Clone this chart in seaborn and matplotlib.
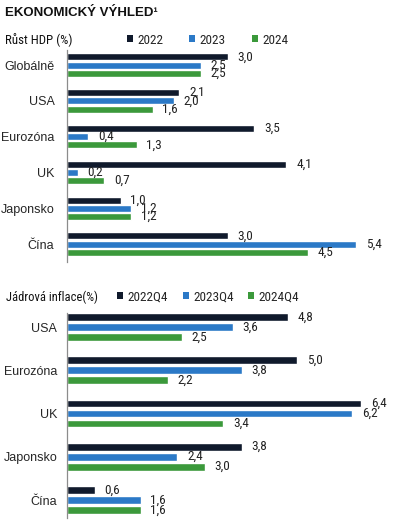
import matplotlib
matplotlib.use("Agg")
import matplotlib.pyplot as plt
from matplotlib.patches import Patch
import pandas as pd
import seaborn as sns

# GDP growth
gdp_countries = ["Globálně", "USA", "Eurozóna", "UK", "Japonsko", "Čína"]
gdp_years = ["2022", "2023", "2024"]
gdp_2022 = [3.0, 2.1, 3.5, 4.1, 1.0, 3.0]
gdp_2023 = [2.5, 2.0, 0.4, 0.2, 1.2, 5.4]
gdp_2024 = [2.5, 1.6, 1.3, 0.7, 1.2, 4.5]

# Core inflation
inf_countries = ["USA", "Eurozóna", "UK", "Japonsko", "Čína"]
inf_periods = ["2022Q4", "2023Q4", "2024Q4"]
inf_2022q4 = [4.8, 5.0, 6.4, 3.8, 0.6]
inf_2023q4 = [3.6, 3.8, 6.2, 2.4, 1.6]
inf_2024q4 = [2.5, 2.2, 3.4, 3.0, 1.6]

COLORS = ["#101a2c", "#2b79c7", "#3b993b"]
NARROW = ["Roboto Condensed", "DejaVu Sans"]
REGULAR = ["Liberation Sans", "DejaVu Sans"]
W, H = 399, 531


def long_df(countries, series, names):
    rows = []
    for name, vals in zip(names, series):
        for c, v in zip(countries, vals):
            rows.append({"country": c, "period": name, "value": v})
    return pd.DataFrame(rows)


def draw(ax, df, order, hues, width, gap, xmax, ylim, label_pad, tick_pad):
    sns.barplot(data=df, y="country", x="value", hue="period", order=order,
                hue_order=hues, palette=COLORS, orient="h", width=width,
                gap=gap, saturation=1, legend=False, ax=ax)
    for cont in ax.containers:
        ax.bar_label(cont, labels=[f"{b.get_width():.1f}".replace(".", ",") for b in cont],
                     padding=label_pad, fontsize=9.5, family=NARROW, color="#222222")
    ax.set_xlim(0, xmax)
    ax.set_ylim(*ylim)
    ax.set_xlabel("")
    ax.set_ylabel("")
    ax.set_xticks([])
    for s in ["top", "right", "bottom"]:
        ax.spines[s].set_visible(False)
    ax.spines["left"].set_color("#8c8c8c")
    ax.spines["left"].set_linewidth(0.9)
    ax.tick_params(axis="y", length=0, pad=tick_pad, labelsize=9)
    for t in ax.get_yticklabels():
        t.set_family(REGULAR)


def legend(fig, names, x, y, colspacing):
    handles = [Patch(facecolor=c, edgecolor="none", label=n) for c, n in zip(COLORS, names)]
    fig.legend(handles=handles, loc="center left", bbox_to_anchor=(x / W, 1 - y / H),
               ncol=3, frameon=False, handlelength=0.45, handleheight=0.45,
               handletextpad=0.35, columnspacing=colspacing, borderpad=0, borderaxespad=0,
               prop={"family": NARROW, "size": 9.5})


sns.set_style("white")
plt.rcParams["font.family"] = REGULAR

fig = plt.figure(figsize=(W / 100, H / 100), dpi=100)

ax1 = fig.add_axes([67 / W, (H - 262) / H, (W - 67) / W, 212 / H])
draw(ax1, long_df(gdp_countries, [gdp_2022, gdp_2023, gdp_2024], gdp_years),
     gdp_countries, gdp_years, width=0.687, gap=0.15, xmax=332 / 53.5,
     ylim=(5.5, -0.42), label_pad=7, tick_pad=9)

ax2 = fig.add_axes([67 / W, (H - 518) / H, (W - 67) / W, 205 / H])
draw(ax2, long_df(inf_countries, [inf_2022q4, inf_2023q4, inf_2024q4], inf_periods),
     inf_countries, inf_periods, width=0.694, gap=0.23, xmax=332 / 46.0,
     ylim=(4.416, -0.324), label_pad=7, tick_pad=7)

fig.text(5 / W, 1 - 13 / H, "EKONOMICKÝ VÝHLED¹", fontsize=9.5, fontweight="bold",
         va="center", ha="left", color="#111111")
fig.text(5 / W, 1 - 40 / H, "Růst HDP (%)", fontsize=9.3, family=NARROW,
         va="center", ha="left", color="#111111")
fig.text(6 / W, 1 - 297 / H, "Jádrová inflace(%)", fontsize=9.0, family=NARROW,
         va="center", ha="left", color="#111111")

legend(fig, gdp_years, 127, 40, 1.95)
legend(fig, inf_periods, 117, 297, 1.1)

fig.savefig("out.png", dpi=100)
